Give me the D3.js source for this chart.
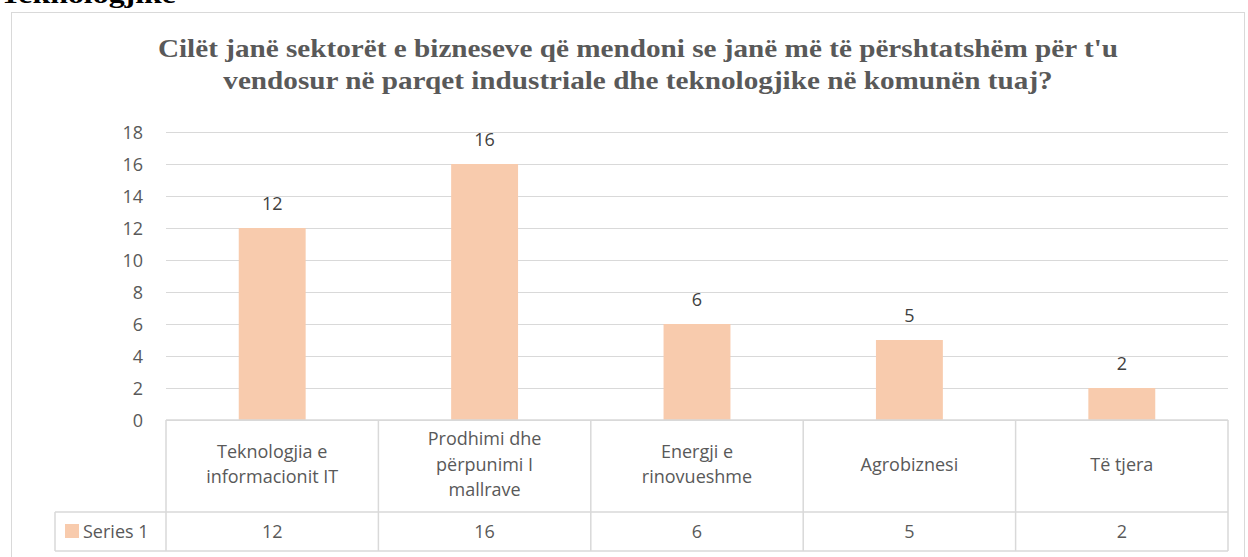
<!DOCTYPE html>
<html><head><meta charset="utf-8">
<script src="https://cdn.jsdelivr.net/npm/d3@7"></script>
<style>body{margin:0;background:#fff;overflow:hidden}</style>
</head><body>
<script>
const categories = [["Teknologjia e","informacionit IT"],["Prodhimi dhe","përpunimi I","mallrave"],["Energji e","rinovueshme"],["Agrobiznesi"],["Të tjera"]];
const values = [12,16,6,5,2];
const yTicks = [0,2,4,6,8,10,12,14,16,18];
const seriesName = "Series 1";
const titleLines = ["Cilët janë sektorët e bizneseve që mendoni se janë më të përshtatshëm për t'u","vendosur në parqet industriale dhe teknologjike në komunën tuaj?"];

const W=1248,H=557;
const svg=d3.select("body").append("svg").attr("width",W).attr("height",H);
const sans="'Open Sans', 'Noto Sans', sans-serif";
const grey="#595959", gridC="#d9d9d9", barC="#f8cbad";
const fs=18;

// scale text horizontally around an anchor x so that its width matches target
function fitWidth(sel,cx,targetFn){
  sel.each(function(d,i){
    const w=this.getComputedTextLength();
    const s=targetFn(w,i)/w;
    d3.select(this).attr("transform",`translate(${cx},0) scale(${s},1) translate(${-cx},0)`);
  });
}

svg.append("text").attr("x",0).attr("y",3).text("Teknologjike")
  .attr("font-family","'Liberation Serif', serif").attr("font-weight","bold").attr("font-size",26).attr("fill","#000")
  .call(fitWidth,0,()=>176);

svg.append("rect").attr("x",11.5).attr("y",12.5).attr("width",1233).attr("height",560).attr("fill","none").attr("stroke",gridC);

svg.selectAll("text.title").data(titleLines).join("text").attr("class","title")
  .attr("x",638).attr("y",(d,i)=>57+i*32).attr("text-anchor","middle")
  .attr("font-family","'Liberation Serif', serif").attr("font-weight","bold").attr("font-size",25.5).attr("fill",grey).text(d=>d)
  .call(fitWidth,638,(w,i)=>w*1.145);

const x0=166,x1=1228,yTop=132,yBot=420;
const x=d3.scaleBand().domain(d3.range(values.length)).range([x0,x1]).paddingInner(0).paddingOuter(0);
const y=d3.scaleLinear().domain([0,18]).range([yBot,yTop]);

svg.append("g").selectAll("line").data(yTicks).join("line")
  .attr("x1",x0).attr("x2",x1).attr("y1",d=>Math.round(y(d))+0.5).attr("y2",d=>Math.round(y(d))+0.5)
  .attr("stroke",gridC).attr("stroke-width",1.2);
svg.append("g").selectAll("text").data(yTicks).join("text")
  .attr("x",143).attr("y",d=>y(d)+6.5).attr("text-anchor","end")
  .attr("font-family",sans).attr("font-size",fs).attr("fill",grey).text(d=>d);

const bw=x.bandwidth()*0.315;
svg.append("g").selectAll("rect").data(values).join("rect")
  .attr("x",(d,i)=>x(i)+x.bandwidth()/2-bw/2).attr("width",bw)
  .attr("y",d=>y(d)).attr("height",d=>yBot-y(d)).attr("fill",barC);
svg.append("g").selectAll("text").data(values).join("text")
  .attr("x",(d,i)=>x(i)+x.bandwidth()/2).attr("y",d=>y(d)-18).attr("text-anchor","middle")
  .attr("font-family",sans).attr("font-size",fs).attr("fill","#404040").text(d=>d);

// data table
const tTop=420,tMid=512,tBot=551,tLeft=55;
const tg=svg.append("g").attr("stroke",gridC).attr("stroke-width",1.5).attr("fill","none");
tg.append("line").attr("x1",x0).attr("x2",x1).attr("y1",tTop).attr("y2",tTop);
tg.append("line").attr("x1",tLeft).attr("x2",x1).attr("y1",tMid).attr("y2",tMid);
tg.append("line").attr("x1",tLeft).attr("x2",x1).attr("y1",tBot).attr("y2",tBot);
tg.append("line").attr("x1",tLeft).attr("x2",tLeft).attr("y1",tMid).attr("y2",tBot);
tg.selectAll("line.v").data(d3.range(values.length+1)).join("line").attr("class","v")
  .attr("x1",i=>i<values.length?x(i):x1).attr("x2",i=>i<values.length?x(i):x1).attr("y1",tTop).attr("y2",tBot);

const lh=25.5;
svg.append("g").selectAll("text").data(categories).join("text")
  .attr("font-family",sans).attr("font-size",fs).attr("fill",grey).attr("text-anchor","middle")
  .each(function(lines,i){
    const cy=(tTop+tMid)/2, start=cy-(lines.length-1)*lh/2+4.5;
    d3.select(this).selectAll("tspan").data(lines).join("tspan")
      .attr("x",x(i)+x.bandwidth()/2).attr("y",(d,j)=>start+j*lh).text(d=>d);
  });
svg.append("g").selectAll("text").data(values).join("text")
  .attr("x",(d,i)=>x(i)+x.bandwidth()/2).attr("y",(tMid+tBot)/2+6.5).attr("text-anchor","middle")
  .attr("font-family",sans).attr("font-size",fs).attr("fill",grey).text(d=>d);
svg.append("rect").attr("x",65).attr("y",524).attr("width",14).attr("height",14).attr("fill",barC);
svg.append("text").attr("x",83).attr("y",(tMid+tBot)/2+6.5).text(seriesName)
  .attr("font-family",sans).attr("font-size",fs).attr("fill",grey);
</script>
</body></html>
